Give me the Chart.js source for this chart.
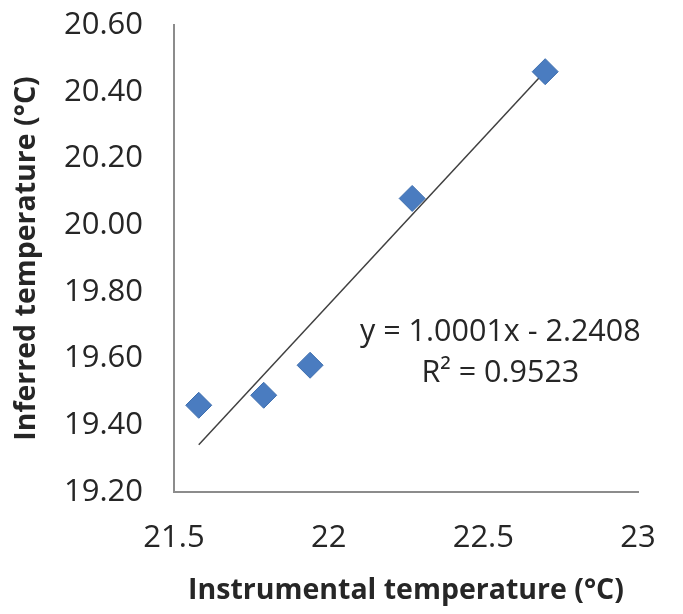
<!DOCTYPE html>
<html>
<head>
<meta charset="utf-8">
<script src="https://cdn.jsdelivr.net/npm/chart.js@4/dist/chart.umd.min.js"></script>
<style>
  html, body { margin: 0; padding: 0; background: #ffffff; }
  #wrap { width: 683px; height: 614px; }
</style>
</head>
<body>
<div id="wrap"><canvas id="c" width="683" height="614"></canvas></div>
<script>
// ---- data ----
const instrumental = [21.58, 21.79, 21.94, 22.27, 22.70];
const inferred     = [19.46, 19.49, 19.58, 20.08, 20.46];
const xTickValues  = [21.5, 22, 22.5, 23];
const yTickValues  = [19.2, 19.4, 19.6, 19.8, 20.0, 20.2, 20.4, 20.6];
const trendSlope = 1.0001;
const trendIntercept = -2.2408;
const equationLines = ['y = 1.0001x - 2.2408', 'R² = 0.9523'];
const xTitle = 'Instrumental temperature (°C)';
const yTitle = 'Inferred temperature (°C)';

const points = instrumental.map((x, i) => ({ x: x, y: inferred[i] }));
const xMin = Math.min(...instrumental), xMaxV = Math.max(...instrumental);
const trend = [xMin, xMaxV].map(x => ({ x: x, y: trendSlope * x + trendIntercept }));

const FONT = "'Open Sans', 'DejaVu Sans', sans-serif";
const TEXT = '#262626';

const equationPlugin = {
  id: 'equation',
  afterDatasetsDraw(chart) {
    const ctx = chart.ctx;
    const xs = chart.scales.x, ys = chart.scales.y;
    const cx = xs.getPixelForValue(22.555);
    ctx.save();
    ctx.fillStyle = TEXT;
    ctx.font = "30.5px " + FONT;
    ctx.textAlign = 'center';
    ctx.textBaseline = 'middle';
    ctx.fillText(equationLines[0], cx, ys.getPixelForValue(19.68));
    ctx.fillText(equationLines[1], cx, ys.getPixelForValue(19.557));
    ctx.restore();
  }
};

new Chart(document.getElementById('c'), {
  type: 'scatter',
  data: {
    datasets: [
      {
        label: 'Trend',
        type: 'line',
        data: trend,
        borderColor: '#404040',
        borderWidth: 1.5,
        pointRadius: 0,
        fill: false,
        order: 2
      },
      {
        label: 'Data',
        data: points,
        pointStyle: 'rectRot',
        pointRadius: 13,
        pointHoverRadius: 13,
        backgroundColor: '#4a7cc0',
        borderColor: '#3f6fae',
        borderWidth: 1,
        order: 1
      }
    ]
  },
  options: {
    responsive: false,
    animation: false,
    events: [],
    layout: { padding: { left: 0, top: 25, right: 45, bottom: 0 } },
    plugins: { legend: { display: false }, tooltip: { enabled: false } },
    scales: {
      x: {
        type: 'linear',
        min: 21.5, max: 23,
        afterBuildTicks: s => { s.ticks = xTickValues.map(v => ({ value: v })); },
        afterFit: s => { s.height = 122; s.paddingLeft = 0; s.paddingRight = 0; },
        grid: { display: false, drawTicks: false },
        border: { display: true, color: '#8c8c8c', width: 2 },
        ticks: {
          padding: 28,
          color: TEXT,
          font: { family: FONT, size: 31 },
          maxRotation: 0,
          callback: v => String(v)
        },
        title: {
          display: true,
          text: xTitle,
          color: TEXT,
          font: { family: FONT, size: 28.5, weight: 'bold' },
          padding: { top: 0, bottom: 6 }
        }
      },
      y: {
        type: 'linear',
        min: 19.2, max: 20.6,
        afterBuildTicks: s => { s.ticks = yTickValues.map(v => ({ value: v })); },
        afterFit: s => { s.width = 174; s.paddingTop = 0; s.paddingBottom = 0; },
        grid: { display: false, drawTicks: false },
        border: { display: true, color: '#8c8c8c', width: 2 },
        ticks: {
          padding: 31,
          color: TEXT,
          font: { family: FONT, size: 31 },
          callback: v => Number(v).toFixed(2)
        },
        title: {
          display: true,
          text: yTitle,
          color: TEXT,
          font: { family: FONT, size: 28.5, weight: 'bold' },
          padding: { top: 10, bottom: 0 }
        }
      }
    }
  },
  plugins: [equationPlugin]
});
</script>
</body>
</html>
